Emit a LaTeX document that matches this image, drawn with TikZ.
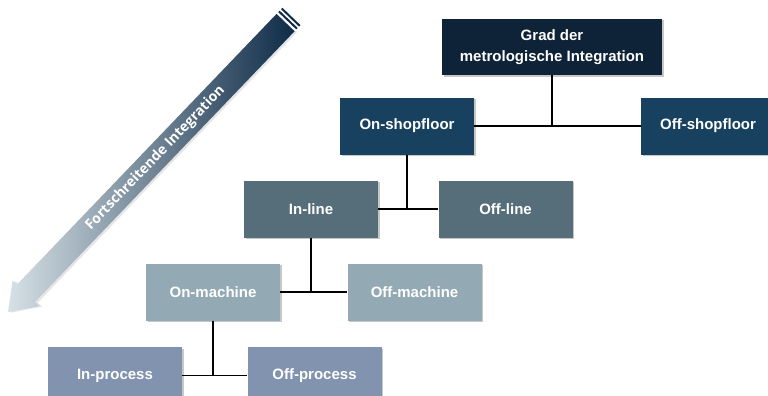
\documentclass[tikz,border=0pt]{standalone}
\usepackage{fontspec}
\setmainfont{Liberation Sans}
\newfontfamily\arrowfont{Open Sans}
\usetikzlibrary{shadows}
\definecolor{cgrad}{HTML}{0E2238}
\definecolor{cshop}{HTML}{17415F}
\definecolor{cline}{HTML}{566D7A}
\definecolor{cmach}{HTML}{93A9B3}
\definecolor{cproc}{HTML}{8193AE}
\definecolor{adark}{HTML}{0E2B47}
\definecolor{amid}{HTML}{587A8B}
\definecolor{alight}{HTML}{D6E1E6}
\begin{document}
\begin{tikzpicture}[x=1pt,y=-1pt,
  box/.style={draw=none, minimum width=134pt, minimum height=57pt, inner sep=0pt,
    text=white, font=\bfseries\fontsize{15}{21}\selectfont, align=center,
    drop shadow={shadow xshift=1.5pt, shadow yshift=-1.5pt, fill=black, opacity=0.22}},
  conn/.style={line width=1.6pt, black}]
\useasboundingbox (0,0) rectangle (768,396);
\clip (0,0) rectangle (768,396);
\fill[white] (0,0) rectangle (768,396);

% arrow
\begin{scope}[shift={(8,312)}, rotate=46.2, x=1pt, y=1pt]
  \fill[black, opacity=0.10] (1.5,-2.5) -- (27.5,16) -- (27.5,10) -- (401.5,10) -- (401.5,-15) -- (27.5,-15) -- (27.5,-21) -- cycle;
  \shade[left color=alight, middle color=amid, right color=adark]
    (0,0) -- (26,18.5) -- (26,12.5) -- (401,12.5) -- (401,-12.5) -- (26,-12.5) -- (26,-18.5) -- cycle;
  \fill[adark] (403.5,12.5) rectangle (405.5,-12.5);
  \fill[adark] (407.5,12.5) rectangle (409.5,-12.5);
  \node[transform shape, inner sep=0pt, font=\arrowfont\bfseries\fontsize{14}{15}\selectfont, text=white] (atext) at (213,0) {Fortschreitende Integration};
\end{scope}

\node[box, fill=cgrad, minimum width=220pt, minimum height=56pt] (grad) at (552,47) {Grad der\\metrologische Integration};
\node[box, fill=cshop] (ons) at (407,126) {On-shopfloor};
\node[box, fill=cshop] (offs) at (708,126) {Off-shopfloor};
\node[box, fill=cline] (inl) at (311,209) {In-line};
\node[box, fill=cline] (offl) at (505.5,209) {Off-line};
\node[box, fill=cmach] (onm) at (213,292) {On-machine};
\node[box, fill=cmach] (offm) at (414.5,292) {Off-machine};
\node[box, fill=cproc] (inp) at (115,375.5) {In-process};
\node[box, fill=cproc] (offp) at (314.5,375.5) {Off-process};

\draw[conn] (ons.east) -- (offs.west);
\draw[conn] (grad.south) -- (grad.south |- ons.east);
\draw[conn] (inl.east) -- (offl.west);
\draw[conn] (ons.south) -- (ons.south |- inl.east);
\draw[conn] (onm.east) -- (offm.west);
\draw[conn] (inl.south) -- (inl.south |- onm.east);
\draw[conn] (inp.east) -- (offp.west);
\draw[conn] (onm.south) -- (onm.south |- inp.east);
\end{tikzpicture}
\end{document}
